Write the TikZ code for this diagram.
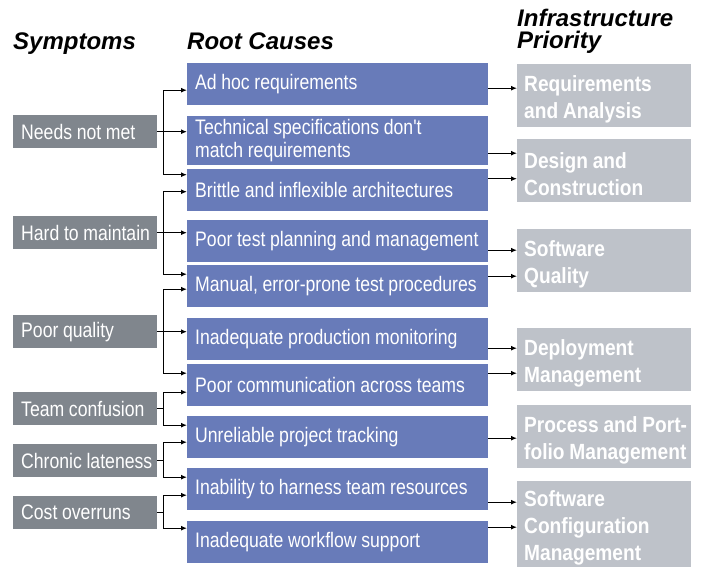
\documentclass[tikz,border=0pt]{standalone}
\usepackage{fontspec}
\setmainfont{Liberation Sans}
\newfontfamily\condfont{Liberation Sans}[FakeStretch=0.84]
\newfontfamily\boldcond{Liberation Sans}[FakeStretch=0.87]
\usepackage{tikz}
\usetikzlibrary{arrows.meta,calc}
\definecolor{causeblue}{RGB}{104,123,185}
\definecolor{symgray}{RGB}{128,134,141}
\definecolor{infragray}{RGB}{190,194,201}
% no hyphenation, a little slack on the right, narrow word spaces
\newcommand{\boxsetup}[1]{\leftskip=#1\rightskip=-30pt plus 1fil
    \spaceskip=0.22em plus 0.05em\hyphenpenalty=10000\exhyphenpenalty=10000}

\begin{document}
\begin{tikzpicture}[x=1pt,y=-1pt,
    heading/.style={anchor=base west,inner sep=0pt,align=left,
        font=\bfseries\itshape\fontsize{24}{22}\selectfont},
    box/.style={anchor=north west,text=white,inner xsep=2pt,inner ysep=0pt,align=left,
        execute at begin node={\boxsetup{6pt}}},
    symptom/.style={box,fill=symgray,minimum width=144pt,minimum height=33pt,
        text width=140pt,font=\condfont\fontsize{21}{23}\selectfont},
    cause/.style={box,fill=causeblue,minimum width=301pt,minimum height=42pt,
        text width=297pt,font=\condfont\fontsize{21}{22.5}\selectfont},
    infra/.style={box,fill=infragray,minimum width=174pt,minimum height=63pt,
        inner xsep=0pt,text width=174pt,text height=23pt,
        execute at begin node={\boxsetup{7pt}},
        font=\boldcond\bfseries\fontsize{22}{27}\selectfont},
    arr/.style={-{Latex[length=6pt,width=5pt]},line width=1.2pt}]
    \useasboundingbox (0,0) rectangle (702,570);
    % Headings
    \node[heading] (hsym) at (13,49) {Symptoms};
    \node[heading] (hcause) at (187,49) {Root Causes};
    \node[heading,anchor=north west] (hinfra) at (517,9) {Infrastructure\\Priority};
    % Symptoms
    \node[symptom] (needs)   at (13,115) {Needs not met};
    \node[symptom] (hard)    at (13,216) {Hard to maintain};
    \node[symptom] (poorq)   at (13,315) {Poor quality};
    \node[symptom] (team)    at (13,392) {Team confusion};
    \node[symptom] (chronic) at (13,444) {Chronic lateness};
    \node[symptom] (cost)    at (13,496) {Cost overruns};
    % Root causes
    \node[cause] (adhoc)    at (187,63)  {Ad hoc requirements};
    \node[cause,minimum height=49pt] (techspec) at (187,116)
        {Technical specifications don't\\match requirements};
    \node[cause] (brittle)  at (187,169) {Brittle and inflexible architectures};
    \node[cause] (poortest) at (187,220) {Poor test planning and management};
    \node[cause] (manual)   at (187,265) {Manual, error-prone test procedures};
    \node[cause] (inprod)   at (187,318) {Inadequate production monitoring};
    \node[cause] (poorcomm) at (187,364) {Poor communication across teams};
    \node[cause] (unrel)    at (187,416) {Unreliable project tracking};
    \node[cause] (inab)     at (187,468) {Inability to harness team resources};
    \node[cause] (workflow) at (187,521) {Inadequate workflow support};
    % Infrastructure priority
    \node[infra] (reqan)   at (517,64)  {Requirements\\and Analysis};
    \node[infra] (design)  at (517,139) {Design and\\Construction};
    \node[infra] (swq)     at (517,229) {Software\\Quality};
    \node[infra] (deploy)  at (517,328) {Deployment\\Management};
    \node[infra] (process) at (517,405) {Process and Port-\\folio Management};
    \node[infra,minimum height=86pt] (scm) at (517,481)
        {Software\\Configuration\\Management};
    % Symptoms to root causes
    \draw[arr] (needs.east) -- ++(6,0) |- ([yshift=-6pt]adhoc.west);
    \draw[arr] (needs.east) -- (needs.east -| techspec.west);
    \draw[arr] (needs.east) -- ++(6,0) |- ([yshift=15.5pt]brittle.west);
    \draw[arr] (hard.east) -- ++(6,0) |- ([yshift=-1.5pt]brittle.west);
    \draw[arr] (hard.east) -- (hard.east -| poortest.west);
    \draw[arr] (hard.east) -- ++(6,0) |- ([yshift=12pt]manual.west);
    \draw[arr] (poorq.east) -- ++(6,0) |- ([yshift=-3pt]manual.west);
    \draw[arr] (poorq.east) -- (poorq.east -| inprod.west);
    \draw[arr] (poorq.east) -- ++(6,0) |- ([yshift=12pt]poorcomm.west);
    \draw[arr] (team.east) -- ++(6,0) |- ([yshift=-7pt]poorcomm.west);
    \draw[arr] (team.east) -- ++(6,0) |- ([yshift=12pt]unrel.west);
    \draw[arr] (chronic.east) -- ++(6,0) |- ([yshift=-5pt]unrel.west);
    \draw[arr] (chronic.east) -- ++(6,0) |- ([yshift=12pt]inab.west);
    \draw[arr] (cost.east) -- ++(6,0) |- ([yshift=-6pt]inab.west);
    \draw[arr] (cost.east) -- ++(6,0) |- ([yshift=14pt]workflow.west);
    % Root causes to infrastructure
    \draw[arr] ([yshift=-4pt]adhoc.east) -- ([yshift=-4pt]adhoc.east -| reqan.west);
    \draw[arr] ([yshift=-12.5pt]techspec.east) -- ([yshift=-12.5pt]techspec.east -| design.west);
    \draw[arr] ([yshift=11.5pt]brittle.east) -- ([yshift=11.5pt]brittle.east -| design.west);
    \draw[arr] ([yshift=-9pt]poortest.east) -- ([yshift=-9pt]poortest.east -| swq.west);
    \draw[arr] ([yshift=10pt]manual.east) -- ([yshift=10pt]manual.east -| swq.west);
    \draw[arr] ([yshift=-9pt]inprod.east) -- ([yshift=-9pt]inprod.east -| deploy.west);
    \draw[arr] ([yshift=12pt]poorcomm.east) -- ([yshift=12pt]poorcomm.east -| deploy.west);
    \draw[arr] ([yshift=-1pt]unrel.east) -- ([yshift=-1pt]unrel.east -| process.west);
    \draw[arr] ([yshift=-13pt]inab.east) -- ([yshift=-13pt]inab.east -| scm.west);
    \draw[arr] ([yshift=15pt]workflow.east) -- ([yshift=15pt]workflow.east -| scm.west);
\end{tikzpicture}
\end{document}
